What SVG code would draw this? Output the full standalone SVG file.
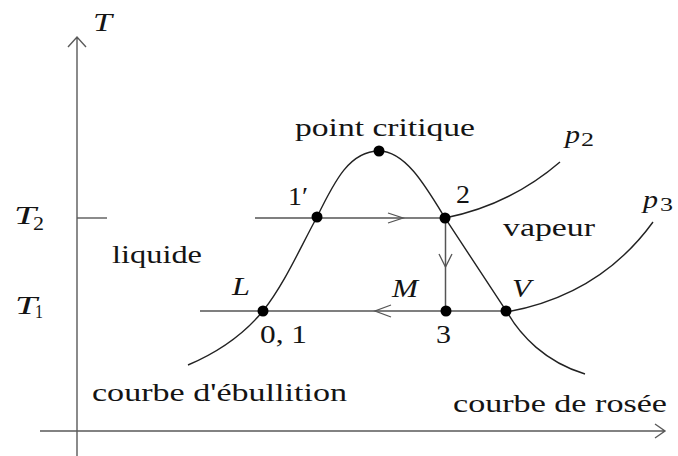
<svg xmlns="http://www.w3.org/2000/svg" width="678" height="456" viewBox="0 0 678 456">
<style>
text{font-family:'Liberation Serif','Times New Roman',Times,serif;font-size:26px;fill:#141414}
.i{font-style:italic}
.s{font-size:18px}
.ax{stroke:#5a5a5a;stroke-width:1.4;fill:none}
.cv{stroke:#222;stroke-width:1.4;fill:none}
.pl{stroke:#555;stroke-width:1.5;fill:none}
.ar{stroke:#555;stroke-width:1.3;fill:none}
.pt{fill:#000}
</style>
<rect width="678" height="456" fill="#fff"/>
<g id="axes">
<path class="ax" d="M77,456 L77,37 M68,47 L77,37 L86,47"/>
<path class="ax" d="M40,431 L665,431 M655,424 L665,431 L655,438"/>
<path class="ax" d="M77,218 L107,218"/>
</g>
<g id="curves">
<path class="cv" d="M188,365 Q235,345 263,311 C285,283 300,248 317,217 C335,180 350,151 379,151 C405,151 425,185 445,218 L507,312 C520,335 545,362 585,374"/>
<path class="cv" d="M445,218 Q510,205 560,162"/>
<path class="cv" d="M507,312 Q600,295 653,222"/>
</g>
<g id="connectors">
<path class="pl" d="M255,218 L445,218"/>
<path class="ar" d="M388,213 L403,218 L388,223"/>
<path class="pl" d="M445.5,218 L445.5,311"/>
<path class="ar" d="M439,254 L445.5,267 L452,254"/>
<path class="pl" d="M200,311 L507,311"/>
<path class="ar" d="M391,305 L375,311 L391,317"/>
</g>
<g id="point-critique"><circle class="pt" cx="379" cy="151" r="5.5"/></g>
<g id="point-1p"><circle class="pt" cx="317" cy="217" r="5.5"/></g>
<g id="point-2"><circle class="pt" cx="445" cy="218" r="5.5"/></g>
<g id="point-L"><circle class="pt" cx="263" cy="311" r="5.5"/></g>
<g id="point-3"><circle class="pt" cx="446" cy="311" r="5.5"/></g>
<g id="point-V"><circle class="pt" cx="506" cy="311" r="5.5"/></g>
<g id="labels">
<text class="i" x="93" y="31" textLength="19" lengthAdjust="spacingAndGlyphs">T</text>
<text class="i" x="14" y="224" textLength="22" lengthAdjust="spacingAndGlyphs">T</text>
<text class="s" x="33" y="230" textLength="11" lengthAdjust="spacingAndGlyphs">2</text>
<text class="i" x="15" y="314" textLength="22" lengthAdjust="spacingAndGlyphs">T</text>
<text class="s" x="35" y="318" textLength="8" lengthAdjust="spacingAndGlyphs">1</text>
<text x="295" y="136" textLength="180" lengthAdjust="spacingAndGlyphs">point critique</text>
<text class="i" x="565" y="143" textLength="15" lengthAdjust="spacingAndGlyphs">p</text>
<text class="s" x="581" y="146" textLength="13" lengthAdjust="spacingAndGlyphs">2</text>
<text class="i" x="643" y="208" textLength="15" lengthAdjust="spacingAndGlyphs">p</text>
<text class="s" x="660" y="211" textLength="13" lengthAdjust="spacingAndGlyphs">3</text>
<text x="288" y="205" textLength="20" lengthAdjust="spacingAndGlyphs">1′</text>
<text x="456" y="203" textLength="14" lengthAdjust="spacingAndGlyphs">2</text>
<text x="503" y="236" textLength="92" lengthAdjust="spacingAndGlyphs">vapeur</text>
<text x="112" y="263" textLength="90" lengthAdjust="spacingAndGlyphs">liquide</text>
<text class="i" x="232" y="295" textLength="18" lengthAdjust="spacingAndGlyphs">L</text>
<text class="i" x="392" y="297" textLength="26" lengthAdjust="spacingAndGlyphs">M</text>
<text class="i" x="512" y="297" textLength="19" lengthAdjust="spacingAndGlyphs">V</text>
<text x="260" y="343" textLength="47" lengthAdjust="spacingAndGlyphs">0, 1</text>
<text x="436" y="343" textLength="15" lengthAdjust="spacingAndGlyphs">3</text>
<text x="92" y="401" textLength="255" lengthAdjust="spacingAndGlyphs">courbe d'ébullition</text>
<text x="453" y="412" textLength="214" lengthAdjust="spacingAndGlyphs">courbe de rosée</text>
</g>
</svg>
